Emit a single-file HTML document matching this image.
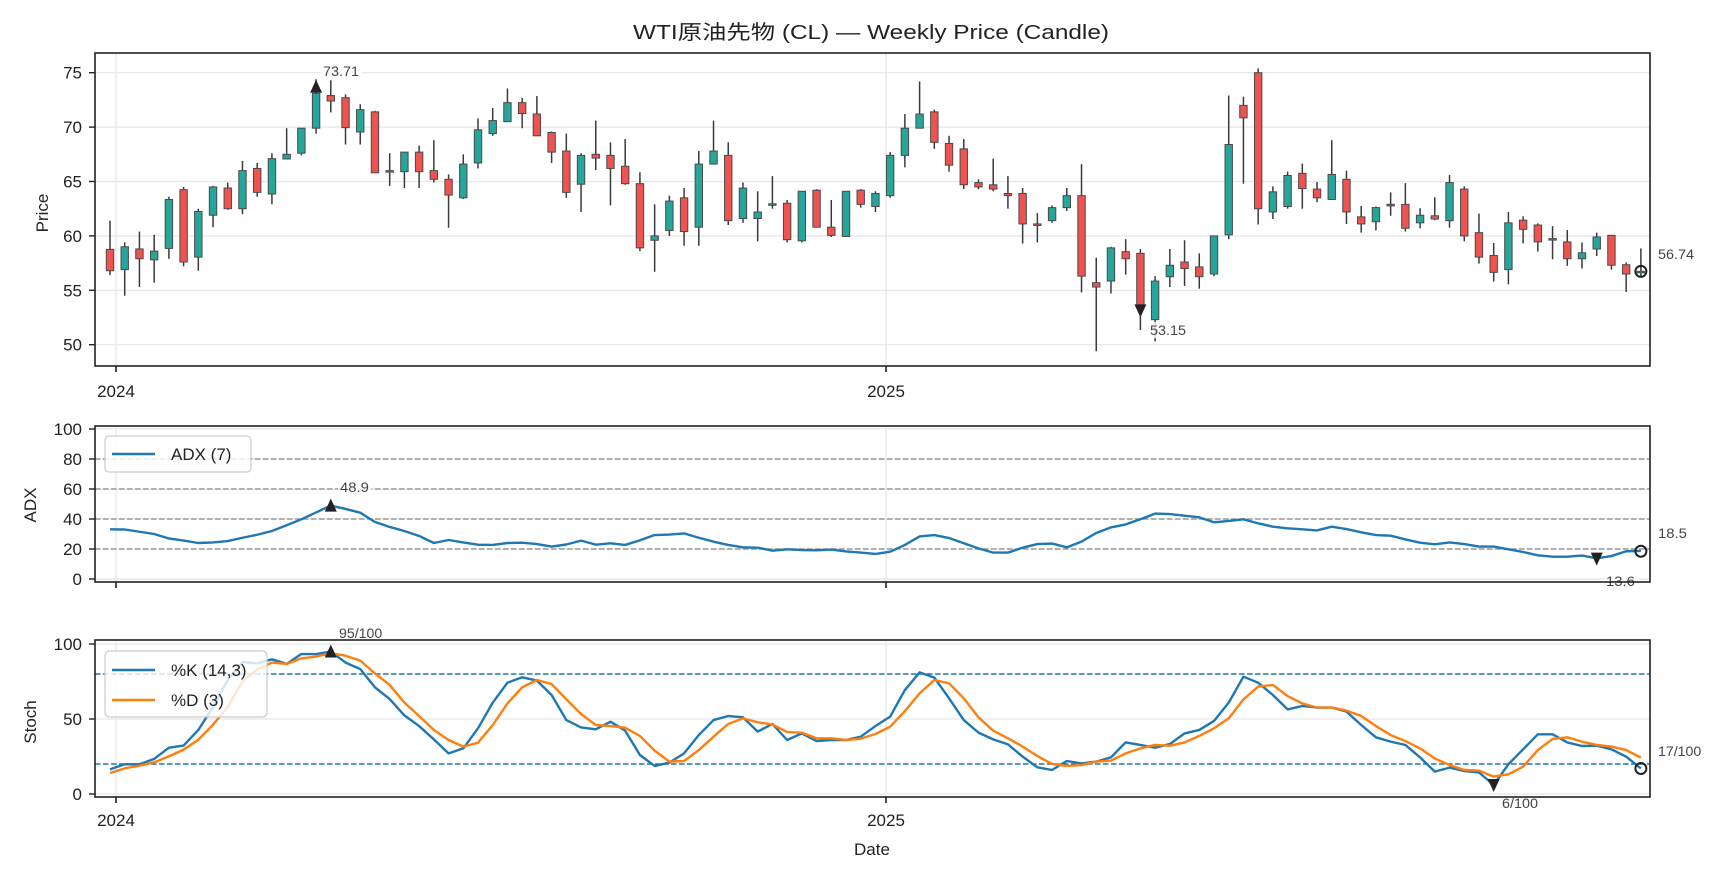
<!DOCTYPE html>
<html><head><meta charset="utf-8">
<style>
html,body{margin:0;padding:0;background:#fff;}
svg{display:block;font-family:"Liberation Sans","Noto Sans CJK JP",sans-serif;}
</style></head>
<body>
<svg id="s" width="1728" height="878" viewBox="0 0 1728 878" xmlns="http://www.w3.org/2000/svg"></svg>
<script>
const C=[
[58.76,61.4,56.4,56.8],[56.9,59.4,54.5,59.0],[58.8,60.4,55.3,57.9],[57.8,60.1,55.7,58.6],[58.85,63.6,57.9,63.35],
[64.25,64.5,57.2,57.6],[58.05,62.5,56.8,62.25],[61.9,64.6,60.8,64.5],[64.4,64.9,62.4,62.5],[62.5,66.9,62.0,66.0],
[66.2,66.7,63.6,64.0],[63.85,67.6,62.9,67.1],[67.07,69.9,67.07,67.5],[67.6,69.9,67.4,69.9],[69.9,74.4,69.4,73.1],
[72.9,74.3,71.35,72.4],[72.7,73.0,68.4,69.95],[69.55,72.1,68.4,71.6],[71.4,71.5,65.8,65.8],[66.0,67.6,64.6,65.9],
[65.9,67.7,64.4,67.7],[67.7,68.3,64.4,65.9],[66.0,68.8,64.9,65.2],[65.2,65.65,60.75,63.75],[63.5,67.5,63.4,66.6],
[66.7,70.8,66.2,69.75],[69.4,71.75,69.2,70.6],[70.5,73.55,70.5,72.25],[72.25,72.7,69.9,71.25],[71.2,72.85,69.2,69.2],
[69.5,69.6,66.7,67.7],[67.8,69.4,63.5,64.0],[64.75,67.6,62.2,67.4],[67.5,70.6,66.05,67.15],[67.4,68.6,62.8,66.2],
[66.4,68.9,64.7,64.8],[64.8,65.85,58.6,58.9],[59.6,62.9,56.7,60.0],[60.5,63.7,60.0,63.2],[63.5,64.4,59.1,60.4],
[60.8,67.8,59.1,66.6],[66.6,70.6,66.6,67.8],[67.4,68.6,61.0,61.4],[61.6,64.9,61.2,64.4],[61.6,64.1,59.5,62.2],
[62.85,65.5,62.5,62.95],[63.0,63.3,59.4,59.65],[59.55,64.1,59.4,64.1],[64.2,64.3,60.8,60.8],[60.8,63.3,59.9,60.05],
[59.95,64.1,59.95,64.1],[64.2,64.3,62.6,62.9],[62.7,64.1,62.2,63.9],[63.7,67.7,63.5,67.4],[67.4,71.2,66.3,69.9],
[69.9,74.2,69.9,71.2],[71.4,71.6,68.0,68.6],[68.5,69.2,65.9,66.5],[68.0,68.9,64.3,64.7],[64.9,65.2,64.3,64.5],
[64.7,67.1,64.1,64.3],[63.9,65.5,62.5,63.7],[63.9,64.4,59.3,61.1],[61.1,62.1,59.4,61.0],[61.4,62.8,61.2,62.6],
[62.6,64.4,62.3,63.7],[63.7,66.6,54.8,56.3],[55.7,58.0,49.4,55.3],[55.85,59.0,54.7,58.9],[58.55,59.7,56.45,57.9],
[58.4,58.8,51.35,53.65],[52.3,56.3,50.3,55.85],[56.25,58.8,55.3,57.3],[57.6,59.6,55.4,57.0],[57.15,58.4,55.15,56.25],
[56.5,60.0,56.3,60.0],[60.1,72.9,59.7,68.4],[72.0,72.8,64.8,70.85],[75.0,75.4,61.05,62.5],[62.2,64.55,61.55,64.05],
[62.7,65.9,62.5,65.55],[65.75,66.65,62.5,64.35],[64.3,64.95,63.1,63.5],[63.35,68.8,63.35,65.65],[65.2,66.0,61.1,62.2],
[61.75,62.75,60.3,61.1],[61.3,62.7,60.5,62.6],[62.9,64.0,61.85,62.8],[62.9,64.85,60.4,60.7],[61.2,62.55,60.7,61.9],
[61.85,63.55,61.45,61.55],[61.4,65.6,60.75,64.9],[64.3,64.55,59.5,60.0],[60.3,62.05,57.45,58.05],[58.2,59.35,55.8,56.65],
[56.9,62.2,55.55,61.2],[61.45,61.8,59.3,60.6],[61.0,61.15,58.55,59.45],[59.75,60.9,57.85,59.65],[59.45,60.55,57.25,57.9],
[57.9,59.4,57.0,58.45],[58.8,60.3,58.15,59.9],[60.05,60.1,56.9,57.3],[57.35,57.55,54.85,56.5],[56.7,58.85,56.25,56.74]];
const ADX=[33.1,33,31.5,30,27,25.6,24,24.4,25.3,27.5,29.5,32,35.8,39.8,44.4,48.9,46.7,44.2,38,34.7,32,28.7,24,26,24.4,22.9,22.7,24,24.2,23.3,21.6,23,25.6,22.9,
23.8,22.7,25.8,29.3,29.6,30.4,27.5,24.9,22.7,21.1,20.9,18.9,19.8,19.3,19.1,19.6,18.4,17.6,16.7,18.2,22.7,28.4,29.3,27.3,23.8,20.4,17.6,17.6,20.9,23.3,23.6,21.1,24.9,30.7,34.4,
36.4,39.8,43.6,43.3,42.2,41.1,37.8,38.7,39.8,37.1,34.9,33.8,33.1,32.4,34.9,33.3,31.1,29.3,28.9,26.4,24.2,23.1,24.4,23.3,21.6,21.6,19.8,18,15.8,14.9,14.9,15.6,13.8,15.3,18.5,18.7];
const K=[16.4,19.8,19.8,23.4,30.9,32.3,42.7,58,76,88,87,89.8,86.7,93.3,93.3,95,87.6,83.3,71.1,63.3,52.4,45.3,36.4,27.1,30.4,43.8,60.9,74.2,77.8,75.6,66,49.3,44.4,43.1,
48.2,42.2,26,18.7,20.9,27.1,39.3,49.3,52,51.1,41.6,46.7,36,40.4,35.3,36,36,38.2,45.3,51.6,69.3,81.1,77.6,63.8,49.3,40.9,36.4,33.1,24.9,17.8,16,22,20.4,21.6,24.4,
34.4,32.7,30.9,33.3,40.4,42.7,48.7,60.9,78.2,74.2,66,56.4,58.7,57.6,57.6,54.9,46,37.8,34.9,32.7,24.4,14.9,17.6,15.3,14.4,6,19.8,29.8,39.8,39.8,34.4,32,32.2,29.8,24.9,17];
const D=[14,17.1,18.9,21.1,25.1,29.6,36.2,46.2,58,75,83,87.6,86.7,90.4,91.6,93.8,92.2,88.9,80.4,72.7,60.9,52,42.7,36,31.6,34.2,46,60.4,71.1,76,73.3,63.1,53.3,46,
45.3,44.2,38.7,28.9,21.6,22,29.3,38.2,46.7,50.4,47.8,46.4,41.3,40.9,37.1,37.1,36,36.9,40,44.9,55.3,67.1,76,73.8,63.8,51.1,42.2,37.1,31.6,25.3,20,18.7,19.3,21.6,22.2,
27.1,30.4,32.7,32.2,34.4,38.7,43.8,50.4,63.1,71.6,72.7,65.3,60.4,57.6,57.6,55.6,52,45.3,39.3,35.3,30.4,23.7,19.3,16,15.6,11.6,13.1,18.2,29.3,36.7,37.8,34.9,32.7,31.6,29.3,24.2];
const X=i=>110+14.72*i, PY=p=>72.7+(75-p)*10.88, AY=v=>579-v*1.5, SY=v=>794-v*1.5;
const L=95,R=1650;
let s='';
const ln=(x1,y1,x2,y2,st)=>`<line x1="${x1}" y1="${y1}" x2="${x2}" y2="${y2}" ${st}/>`;
const tx=(x,y,t,st)=>`<text x="${x}" y="${y}" ${st}>${t}</text>`;
// title
s+=tx(871,39,'WTI原油先物 (CL) — Weekly Price (Candle)','text-anchor="middle" font-size="20" fill="#222" textLength="476" lengthAdjust="spacingAndGlyphs"');
function panel(top,bot){
  // vertical year grid
  s+=ln(116,top,116,bot,'stroke="#e6e6e6" stroke-width="1.2"');
  s+=ln(886,top,886,bot,'stroke="#e6e6e6" stroke-width="1.2"');
}
function frame(top,bot){
  s+=`<rect x="${L}" y="${top}" width="${R-L}" height="${bot-top}" fill="none" stroke="#222" stroke-width="1.6"/>`;
  s+=ln(116,bot,116,bot+6,'stroke="#222" stroke-width="1.6"');
  s+=ln(886,bot,886,bot+6,'stroke="#222" stroke-width="1.6"');
}
const TK='font-size="17" fill="#222"';
// PRICE
panel(53,366);
for(let p=50;p<=75;p+=5){const y=PY(p);s+=ln(L,y,R,y,'stroke="#e6e6e6" stroke-width="1.2"');s+=ln(L-6,y,L,y,'stroke="#222" stroke-width="1.4"');s+=tx(82,y+6,p,'text-anchor="end" '+TK);}
C.forEach((c,i)=>{const [o,h,l,cl]=c;const x=X(i);const up=cl>=o;
 s+=ln(x,PY(h),x,PY(l),'stroke="#3a3a3a" stroke-width="1.5"');
 let y1=PY(Math.max(o,cl)),y2=PY(Math.min(o,cl));if(y2-y1<1.5){y2=y1+1.5;}
 s+=`<rect x="${x-3.7}" y="${y1}" width="7.4" height="${y2-y1}" fill="${up?'#26a69a':'#ef5350'}" stroke="#4a4a4a" stroke-width="1"/>`;});
frame(53,366);
s+=tx(116,397,'2024','text-anchor="middle" '+TK);s+=tx(886,397,'2025','text-anchor="middle" '+TK);
s+=`<text transform="translate(48,213) rotate(-90)" text-anchor="middle" font-size="17" fill="#222">Price</text>`;
const tri=(x,y,up)=>up?`<path d="M${x-6},${y+6}L${x+6},${y+6}L${x},${y-7}Z" fill="#222"/>`:`<path d="M${x-6},${y-6}L${x+6},${y-6}L${x},${y+7}Z" fill="#222"/>`;
const circ=(x,y)=>`<circle cx="${x}" cy="${y}" r="5.5" fill="none" stroke="#222" stroke-width="2"/>`;
const lab=(x,y,t)=>`<rect x="${x-2}" y="${y-13}" width="${t.length*7.4+4}" height="16" fill="#fff" opacity="0.8"/>`+tx(x,y,t,'font-size="14" fill="#444" textLength="'+(t.length*7.2)+'" lengthAdjust="spacingAndGlyphs"');
s+=tri(X(14),PY(73.71),true)+lab(323,76,'73.71');
s+=tri(X(70),PY(53.15),false)+lab(1150,335,'53.15');
s+=ln(X(104),PY(56.74)-1,X(104),PY(56.74)+1,'')+circ(X(104),PY(56.74))+lab(1658,259,'56.74');
// ADX
panel(426,582);
for(let v=0;v<=100;v+=20){const y=AY(v);s+=ln(L,y,R,y,'stroke="#e6e6e6" stroke-width="1.2"');s+=ln(L-6,y,L,y,'stroke="#222" stroke-width="1.4"');s+=tx(82,y+6,v,'text-anchor="end" '+TK);}
for(let v=20;v<=80;v+=20){const y=AY(v);s+=ln(L,y,R,y,'stroke="#999" stroke-width="1.5" stroke-dasharray="5.5,2.5"');}
s+=`<polyline points="${ADX.map((v,i)=>X(i)+','+AY(v)).join(' ')}" fill="none" stroke="#1f77b4" stroke-width="2.4" stroke-linejoin="round"/>`;
s+=tri(X(15),AY(48.9),true)+lab(340,492,'48.9');
s+=tri(X(101),AY(13.6),false)+lab(1606,586,'13.6');
s+=circ(X(104),AY(18.5))+lab(1658,538,'18.5');
frame(426,582);
s+=`<rect x="105" y="436" width="146" height="36" rx="4" fill="#fff" fill-opacity="0.8" stroke="#ccc" stroke-width="1.2"/>`;
s+=ln(112,454,155,454,'stroke="#1f77b4" stroke-width="2.4"')+tx(171,460,'ADX (7)','font-size="17" fill="#222"');
s+=`<text transform="translate(36,505) rotate(-90)" text-anchor="middle" font-size="17" fill="#222">ADX</text>`;
// STOCH
panel(640,797);
for(let v=0;v<=100;v+=50){const y=SY(v);s+=ln(L,y,R,y,'stroke="#e6e6e6" stroke-width="1.2"');s+=ln(L-6,y,L,y,'stroke="#222" stroke-width="1.4"');s+=tx(82,y+6,v,'text-anchor="end" '+TK);}
for(const v of [20,80]){const y=SY(v);s+=ln(L,y,R,y,'stroke="#1f77b4" stroke-width="1.5" stroke-dasharray="5.5,2.5"');}
s+=`<polyline points="${K.map((v,i)=>X(i)+','+SY(v)).join(' ')}" fill="none" stroke="#1f77b4" stroke-width="2.4" stroke-linejoin="round"/>`;
s+=`<polyline points="${D.map((v,i)=>X(i)+','+SY(v)).join(' ')}" fill="none" stroke="#ff7f0e" stroke-width="2.4" stroke-linejoin="round"/>`;
s+=tri(X(15),SY(95),true)+lab(339,638,'95/100');
s+=tri(X(94),SY(6),false)+lab(1502,808,'6/100');
s+=circ(X(104),SY(17))+lab(1658,756,'17/100');
frame(640,797);
s+=`<rect x="105" y="651" width="162" height="66" rx="4" fill="#fff" fill-opacity="0.8" stroke="#ccc" stroke-width="1.2"/>`;
s+=ln(112,670,155,670,'stroke="#1f77b4" stroke-width="2.4"')+tx(171,676,'%K (14,3)','font-size="17" fill="#222"');
s+=ln(112,700,155,700,'stroke="#ff7f0e" stroke-width="2.4"')+tx(171,706,'%D (3)','font-size="17" fill="#222"');
s+=`<text transform="translate(36,722) rotate(-90)" text-anchor="middle" font-size="17" fill="#222">Stoch</text>`;
s+=tx(116,826,'2024','text-anchor="middle" '+TK);s+=tx(886,826,'2025','text-anchor="middle" '+TK);
s+=tx(872,855,'Date','text-anchor="middle" '+TK);
document.getElementById('s').innerHTML=s;
</script>
</body></html>
